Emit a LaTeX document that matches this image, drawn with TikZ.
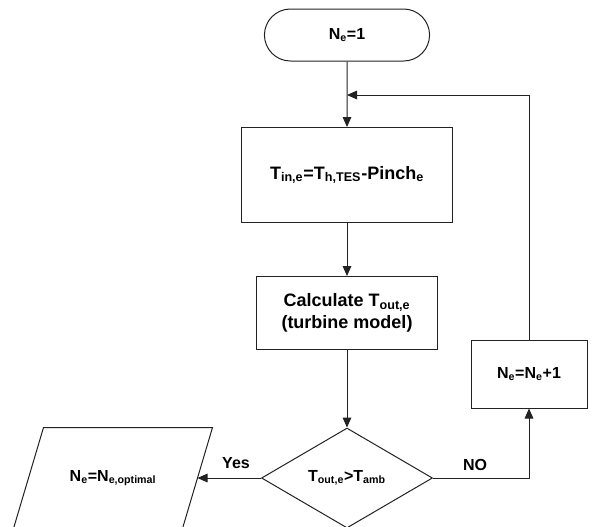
\documentclass[tikz,border=0pt]{standalone}
\usepackage{fontspec}
\setmainfont{Liberation Sans}
\usepackage{tikz}
\usetikzlibrary{calc,shapes.geometric,shapes.misc,arrows.meta}
\definecolor{flowline}{HTML}{222222}

\begin{document}
\begin{tikzpicture}[x=0.75pt,y=-0.75pt,line width=0.75pt,draw=flowline,
  font=\fontsize{12}{15}\selectfont\bfseries,
  >={Triangle[length=7.5pt,width=6.5pt]},
  termbox/.style={rounded rectangle,draw,minimum width=130.5pt,minimum height=39pt},
  procbox/.style={rectangle,draw,align=center,inner sep=0pt},
  bigtext/.style={font=\fontsize{13.5}{17}\selectfont\bfseries},
  testbox/.style={diamond,draw,aspect=1.71,minimum width=128.25pt,minimum height=75pt,inner sep=0pt}]
\useasboundingbox (0,0) rectangle (596,526);
\node[termbox] (start) at (347,35) {N\textsubscript{e}=1};
\node[procbox,bigtext,minimum width=158.25pt,minimum height=71.25pt] (tin) at (347,175)
  {T\textsubscript{in,e}=T\textsubscript{h,TES}-Pinch\textsubscript{e}};
\node[procbox,bigtext,minimum width=135.75pt,minimum height=54.75pt] (calc) at (347,313)
  {Calculate T\textsubscript{out,e}\\(turbine model)};
\node[testbox] (test) at (347,478) {T\textsubscript{out,e}>T\textsubscript{amb}};
\node[procbox,minimum width=87pt,minimum height=51pt] (incr) at (529,374)
  {N\textsubscript{e}=N\textsubscript{e}+1};
% output block, slanted sides drawn by hand
\node[minimum width=126pt,minimum height=75pt,inner sep=0pt] (opt) at (113,478)
  {N\textsubscript{e}=N\textsubscript{e,optimal}};
\draw ($(opt.north west)+(15,0)$) -- ($(opt.north east)+(15,0)$)
  -- ($(opt.south east)+(-15,0)$) -- ($(opt.south west)+(-15,0)$) -- cycle;
\coordinate (join) at (347,95);

\draw[->] (start) -- (tin);
\draw[->] (tin) -- (calc);
\draw[->] (calc) -- (test);
\draw[->] (test.west) -- (opt.east);
\draw[->] (test.east) -| (incr.south);
\draw[->] (incr.north) |- (join);
\node (yes) at (236,463) {Yes};
\node (no) at (475,465) {NO};
\end{tikzpicture}
\end{document}
